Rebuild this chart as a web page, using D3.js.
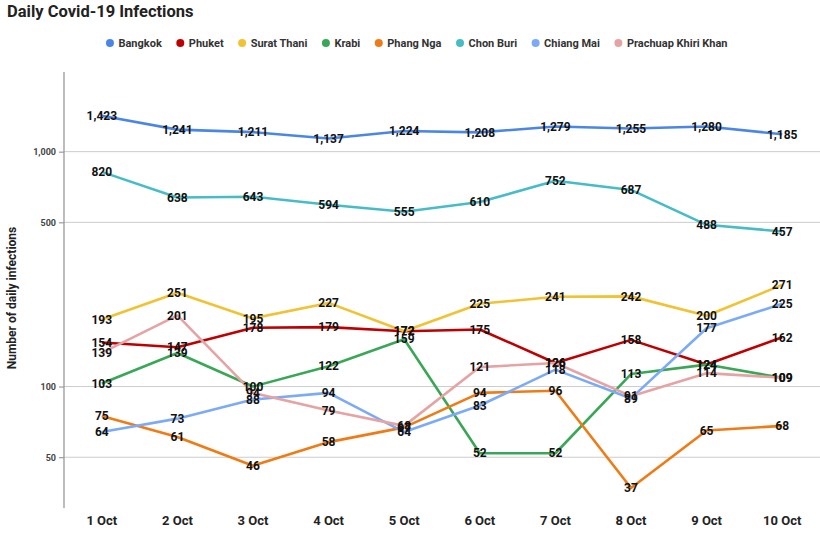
<!DOCTYPE html>
<html><head><meta charset="utf-8">
<script src="https://cdn.jsdelivr.net/npm/d3@7"></script>
<style>body{margin:0;background:#fff;font-family:Roboto,"Liberation Sans",sans-serif;}</style>
</head><body><svg id="c" width="820" height="534"></svg>
<script>
const days = ["1 Oct","2 Oct","3 Oct","4 Oct","5 Oct","6 Oct","7 Oct","8 Oct","9 Oct","10 Oct"];
const seriesNames = ["Bangkok","Phuket","Surat Thani","Krabi","Phang Nga","Chon Buri","Chiang Mai","Prachuap Khiri Khan"];
const bangkok  = [1423,1241,1211,1137,1224,1208,1279,1255,1280,1185];
const phuket   = [154,147,178,179,172,175,126,158,124,162];
const surat    = [193,251,195,227,172,225,241,242,200,271];
const krabi    = [103,139,100,122,159,52,52,113,124,109];
const phangNga = [75,61,46,58,67,94,96,37,65,68];
const chonBuri = [820,638,643,594,555,610,752,687,488,457];
const chiangMai= [64,73,88,94,64,83,118,89,177,225];
const prachuap = [139,201,94,79,68,121,126,91,114,109];
const yTicks = [50,100,500,1000];
const colors = ["#4a86e8","#c00000","#f1c232","#3aa757","#f07a14","#46bdc6","#7baaf7","#e6a3a3"];

const seriesValues = [bangkok,phuket,surat,krabi,phangNga,chonBuri,chiangMai,prachuap];
const svg = d3.select("#c");
const mLeft = 64, mRight = 820, mTop = 72, mBottom = 508;

const x = d3.scaleBand().domain(days).range([mLeft, mRight]);
const xc = d => x(d) + x.bandwidth()/2;
const y = d3.scaleLog().domain([30.4, 2183]).range([mBottom, mTop]);

// title
svg.append("text").attr("x",7).attr("y",17).attr("font-size",16.5).attr("font-weight","bold")
  .attr("fill","#222").text("Daily Covid-19 Infections");

// gridlines
svg.append("g").selectAll("line").data(yTicks).join("line")
  .attr("x1",mLeft).attr("x2",mRight).attr("y1",d=>y(d)).attr("y2",d=>y(d))
  .attr("stroke","#cccccc").attr("stroke-width",1);

// y axis
const yAxis = d3.axisLeft(y).tickValues(yTicks).tickFormat(d3.format(",")).tickSize(5).tickPadding(3);
const gy = svg.append("g").attr("transform",`translate(${mLeft},0)`).call(yAxis);
gy.select(".domain").remove();
gy.selectAll(".tick line").attr("stroke","#888");
gy.selectAll(".tick text").attr("font-size",9).attr("font-weight","bold").attr("fill","#444")
  .attr("font-family","Roboto,sans-serif");
svg.append("line").attr("x1",mLeft).attr("x2",mLeft).attr("y1",mTop).attr("y2",mBottom)
  .attr("stroke","#999").attr("stroke-width",1.3);

// x axis labels
const xAxis = d3.axisBottom(x).tickSize(0).tickPadding(8);
const gx = svg.append("g").attr("transform",`translate(0,${mBottom})`).call(xAxis);
gx.select(".domain").remove();
gx.selectAll(".tick text").attr("font-size",13).attr("font-weight","bold").attr("fill","#222")
  .attr("font-family","Roboto,sans-serif");

// y title
svg.append("text").attr("transform","translate(16,298) rotate(-90)").attr("text-anchor","middle")
  .attr("font-size",12).attr("font-weight","bold").attr("fill","#222").text("Number of daily infections");

// lines
const line = d3.line().x((d,i)=>xc(days[i])).y(d=>y(d));
seriesValues.forEach((vals,k)=>{
  svg.append("path").datum(vals).attr("d",line).attr("fill","none")
    .attr("stroke",colors[k]).attr("stroke-width",2.6).attr("stroke-linejoin","round");
});
// labels
const fmt = d3.format(",");
seriesValues.forEach((vals,k)=>{
  svg.append("g").selectAll("text").data(vals).join("text")
    .attr("x",(d,i)=>xc(days[i])).attr("y",d=>y(d)).attr("dy","0.35em")
    .attr("text-anchor","middle").attr("font-size",12).attr("font-weight","bold").attr("fill","#111")
    .text(d=>fmt(d));
});

// legend
const lg = svg.append("g");
let cx = 0;
seriesNames.forEach((n,k)=>{
  const g = lg.append("g").attr("transform",`translate(${cx},0)`);
  g.append("circle").attr("cx",4.5).attr("cy",0).attr("r",4).attr("fill",colors[k]);
  const t = g.append("text").attr("x",13).attr("y",0).attr("dy","0.35em").attr("font-size",11)
    .attr("font-weight","bold").attr("fill","#333").text(n);
  const w = t.node().getComputedTextLength();
  cx += 13 + w + 14;
});
const total = cx - 14;
lg.attr("transform",`translate(${(108+ (725-108-total)/2)},43)`);
</script></body></html>
